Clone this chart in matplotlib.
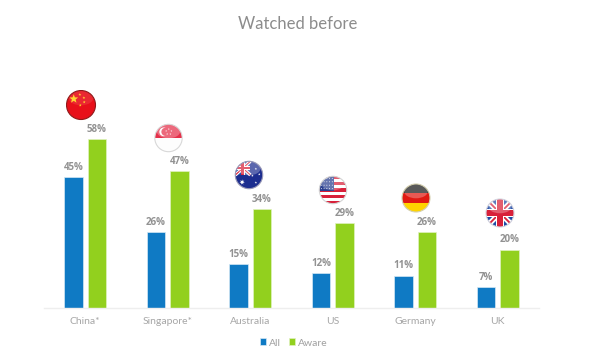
import matplotlib
matplotlib.use("Agg")
import matplotlib.pyplot as plt
import numpy as np
from matplotlib.patches import Circle, Rectangle, Polygon, Ellipse

categories = ["China*", "Singapore*", "Australia", "US", "Germany", "UK"]
all_vals = [45, 26, 15, 12, 11, 7]
aware_vals = [58, 47, 34, 29, 26, 20]
flag_names = ["china", "singapore", "australia", "us", "germany", "uk"]
flag_cx = [81, 168.5, 249, 333, 416, 500]
flag_cy = [105, 138, 175, 190, 198, 213]
flag_r = [14.5, 13.7, 13.7, 13.7, 14, 14]
flag_ring = ["#8f1a1a", "#d8d8d8", "#9a9ab8", "#d5d5d5", "#d5d0b0", "#d5d5e0"]

W, H = 606, 361
plt.rcParams["font.family"] = ["Lato", "DejaVu Sans"]
fig = plt.figure(figsize=(W / 100, H / 100), dpi=100, facecolor="white")

BLUE, GREEN = "#0F7AC4", "#92D01E"
base_y = 307.5
top_y = 60
ax = fig.add_axes([44 / W, 1 - base_y / H, (539 - 44) / W, (base_y - top_y) / H])
x = np.arange(len(categories))
bw = 0.224
off = 0.142
b1 = ax.bar(x - off, all_vals, bw, color=BLUE, edgecolor="#d4e8f5", linewidth=0.5, label="All")
b2 = ax.bar(x + off, aware_vals, bw, color=GREEN, edgecolor="#e0f2c0", linewidth=0.5, label="Aware")
ax.set_xlim(-0.5, 5.5)
ax.set_ylim(0, (base_y - top_y) / 2.9)
for s in ["top", "left", "right"]:
    ax.spines[s].set_visible(False)
ax.spines["bottom"].set_color("#eeeeee")
ax.spines["bottom"].set_linewidth(1)
ax.set_yticks([])
ax.set_xticks(x)
ax.set_xticklabels(categories, fontsize=7.5, color="#a6a6a6")
ax.tick_params(axis="x", length=0, pad=7)
for bars in (b1, b2):
    for r in bars:
        ax.annotate(f"{int(r.get_height())}%", (r.get_x() + r.get_width() / 2, r.get_height()),
                    xytext=(0, 3), textcoords="offset points", ha="center", va="bottom",
                    fontsize=7, fontweight="bold", family=["Open Sans", "DejaVu Sans"], color="#929292")

fig.text(298 / W, 1 - 24 / H, "Watched before", ha="center", va="center", fontsize=12, color="#8c8c8c")

fig.legend(handles=[b1, b2], loc="center", bbox_to_anchor=(293.5 / W, 1 - 343 / H), ncol=2, frameon=False,
           fontsize=7.5, labelcolor="#a0a0a0", handlelength=0.62, handleheight=0.62,
           handletextpad=0.25, columnspacing=0.75, borderpad=0)


def star(a, cx, cy, r, color, n=5, z=3):
    pts = []
    for i in range(2 * n):
        rr = r if i % 2 == 0 else r * 0.42
        t = np.pi / 2 + i * np.pi / n
        pts.append((cx + rr * np.cos(t), cy + rr * np.sin(t)))
    a.add_patch(Polygon(pts, color=color, lw=0, zorder=z))


def union_jack(a, x0, y0, x1, y1, scale=1.0):
    a.add_patch(Rectangle((x0, y0), x1 - x0, y1 - y0, color="#1f4aa5", lw=0, zorder=2))
    a.plot([x0, x1], [y0, y1], color="white", lw=3 * scale, zorder=3, solid_capstyle="butt")
    a.plot([x0, x1], [y1, y0], color="white", lw=3 * scale, zorder=3, solid_capstyle="butt")
    a.plot([x0, x1], [y0, y1], color="#d8203a", lw=1 * scale, zorder=3, solid_capstyle="butt")
    a.plot([x0, x1], [y1, y0], color="#d8203a", lw=1 * scale, zorder=3, solid_capstyle="butt")
    mx, my = (x0 + x1) / 2, (y0 + y1) / 2
    w = (x1 - x0) * 0.09
    h = (y1 - y0) * 0.09
    a.add_patch(Rectangle((mx - 1.6 * w, y0), 3.2 * w, y1 - y0, color="white", lw=0, zorder=4))
    a.add_patch(Rectangle((x0, my - 1.6 * h), x1 - x0, 3.2 * h, color="white", lw=0, zorder=4))
    a.add_patch(Rectangle((mx - w, y0), 2 * w, y1 - y0, color="#d8203a", lw=0, zorder=5))
    a.add_patch(Rectangle((x0, my - h), x1 - x0, 2 * h, color="#d8203a", lw=0, zorder=5))


def draw_flag(name, cx, cy, r, ring):
    a = fig.add_axes([(cx - r - 1) / W, 1 - (cy + r + 1) / H, (2 * r + 2) / W, (2 * r + 2) / H])
    lim = (r + 1) / r
    a.set_xlim(-lim, lim)
    a.set_ylim(-lim, lim)
    a.axis("off")
    if name == "china":
        a.add_patch(Rectangle((-1, -1), 2, 2, color="#e8101a", lw=0, zorder=1))
        star(a, -0.5, 0.42, 0.32, "#ffd21a")
        for px, py in [(-0.08, 0.72), (0.2, 0.5), (0.22, 0.2), (-0.05, -0.02)]:
            star(a, px, py, 0.1, "#ffd21a")
    elif name == "singapore":
        a.add_patch(Rectangle((-1, 0), 2, 1, color="#e5304a", lw=0, zorder=1))
        a.add_patch(Rectangle((-1, -1), 2, 1, color="#fdfdfd", lw=0, zorder=1))
        a.add_patch(Circle((-0.35, 0.45), 0.32, color="white", lw=0, zorder=2))
        a.add_patch(Circle((-0.22, 0.45), 0.3, color="#e5304a", lw=0, zorder=3))
        for t in np.linspace(0, 2 * np.pi, 5, endpoint=False):
            star(a, 0.02 + 0.2 * np.sin(t), 0.45 + 0.2 * np.cos(t), 0.07, "white", z=4)
    elif name == "australia":
        a.add_patch(Rectangle((-1, -1), 2, 2, color="#1c2d8f", lw=0, zorder=1))
        union_jack(a, -1, 0.0, 0.1, 1.0, 0.8)
        star(a, -0.5, -0.52, 0.2, "white", n=7)
        for px, py in [(0.5, 0.45), (0.25, -0.05), (0.75, 0.05), (0.5, -0.55)]:
            star(a, px, py, 0.09, "white")
    elif name == "us":
        stripes = 9
        ys = np.linspace(1, -1, stripes + 1)
        for i in range(stripes):
            a.add_patch(Rectangle((-1, ys[i + 1]), 2, ys[i] - ys[i + 1],
                                  color="#d8203a" if i % 2 == 0 else "white", lw=0, zorder=1))
        a.add_patch(Rectangle((-1, -0.05), 1.1, 1.05, color="#2a3f8f", lw=0, zorder=2))
        for px in np.linspace(-0.85, -0.05, 5):
            for py in np.linspace(0.1, 0.85, 4):
                a.add_patch(Circle((px, py), 0.035, color="white", lw=0, zorder=3))
    elif name == "germany":
        a.add_patch(Rectangle((-1, 1 / 3), 2, 2 / 3, color="#1a1a1a", lw=0, zorder=1))
        a.add_patch(Rectangle((-1, -1 / 3), 2, 2 / 3, color="#e01a12", lw=0, zorder=1))
        a.add_patch(Rectangle((-1, -1), 2, 2 / 3, color="#ffd400", lw=0, zorder=1))
    elif name == "uk":
        union_jack(a, -1, -1, 1, 1, 1.3)
    clip = Circle((0, 0), 1, transform=a.transData)
    gloss = Ellipse((0, 0.48), 1.7, 1.0, color="white", alpha=0.28 if name != "china" else 0.1, lw=0, zorder=8)
    a.add_patch(gloss)
    for art in list(a.patches) + list(a.lines):
        art.set_clip_path(clip)
    a.add_patch(Circle((0, 0), 1, fill=False, ec=ring, lw=0.8, zorder=9))


for name, cx, cy, r, ring in zip(flag_names, flag_cx, flag_cy, flag_r, flag_ring):
    draw_flag(name, cx, cy, r, ring)

fig.savefig("out.png", dpi=100, facecolor="white")
